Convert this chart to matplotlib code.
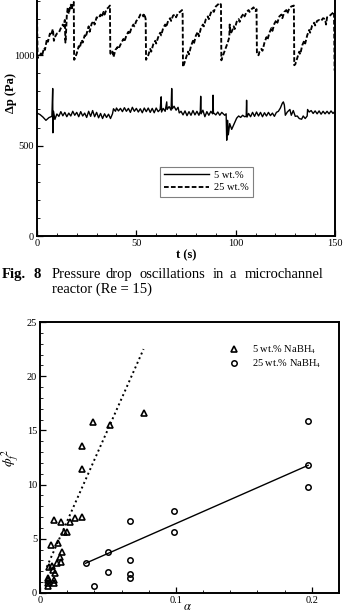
import numpy as np
import matplotlib
matplotlib.use("Agg")
from matplotlib import pyplot as plt
from matplotlib.ticker import MultipleLocator

plt.rcParams['font.family'] = ['Liberation Serif', 'DejaVu Serif']
plt.rcParams['mathtext.fontset'] = 'stix'

## Data
# Fig 8: pressure drop, 5 wt.% (thin solid)
t5 = [0, 1.5, 3, 4.5, 6, 7.5, 7.9, 8.0, 8.3, 9, 10, 11, 12, 13, 14, 15, 16, 17, 18, 19,
      20, 21, 22, 23, 24, 25, 26, 27, 28, 29, 30, 31, 32, 33, 34, 35, 36, 37, 38, 38.5,
      39.5, 40, 41, 42, 43, 44, 45, 46, 47, 48, 49, 50, 51, 52, 53, 54, 55, 56, 57, 58,
      59, 60, 61, 62, 62.5, 62.7, 63.5, 64.5, 65.3, 65.5, 66.5, 67.5, 67.8, 68.1, 69, 70, 71, 71.6, 72.5, 73.5,
      74.5, 75.5, 76.5, 77.5, 78.5, 79.5, 80.5, 81.5, 82.2, 82.4, 82.6, 83.5, 84.5, 85.5, 86.5, 87.5, 88.4, 88.6, 88.8, 90,
      91, 92, 93, 94.5, 95.2, 95.5, 95.9, 96.3, 97, 98, 99, 100, 100.5, 101.5, 102.5, 103.5, 104.5, 105.3, 105.5, 105.7,
      106.5, 107.5, 108.5, 109.5, 110.5, 111.5, 112.5, 113.5, 114.5, 115.5, 116.5, 117.5, 118.5, 119.5, 120.5, 121.5, 122.5, 123.5, 124, 124.5,
      125, 126, 127.3, 128, 129, 130, 131, 132, 133.2, 134, 135, 136, 136.2, 137, 138, 139, 140, 141, 142, 143,
      144, 145, 146, 147, 148, 149, 150]
p5 = [680, 672, 658, 640, 655, 662, 816, 571, 690, 645, 675, 662, 688, 665, 684, 660, 680, 664, 690, 668,
      684, 660, 688, 664, 680, 656, 690, 662, 694, 660, 684, 654, 678, 650, 676, 656, 674, 650, 676, 704,
      690, 708, 692, 706, 688, 710, 690, 706, 684, 712, 690, 706, 686, 704, 682, 708, 688, 708, 684, 706,
      682, 708, 688, 700, 770, 686, 706, 690, 742, 700, 716, 696, 816, 704, 718, 696, 712, 681, 690, 670,
      692, 666, 688, 668, 694, 670, 690, 668, 690, 773, 676, 696, 660, 688, 668, 690, 676, 779, 682, 670,
      686, 668, 684, 668, 676, 530, 640, 560, 622, 590, 615, 640, 652, 664, 656, 668, 660, 662, 751, 658,
      678, 660, 684, 662, 686, 664, 684, 660, 682, 664, 684, 666, 680, 662, 684, 690, 708, 735, 742, 725,
      668, 686, 700, 668, 694, 662, 664, 650, 646, 664, 650, 664, 700, 686, 694, 678, 692, 676, 692, 674,
      690, 676, 690, 676, 692, 678, 690]

# Fig 8: pressure drop, 25 wt.% (dashed sawtooth)
t25 = [0, 0.3, 1, 2, 2.5, 3.5, 4, 5, 5.5, 6.5, 7, 8, 8.5, 9, 10, 11, 12, 13, 13.5, 14, 14.3, 14.6, 15, 15.5, 16, 16.5, 17, 17.5, 18, 18.5, 18.7,
       19, 20, 21, 21.5, 22.5, 23, 24, 24.5, 25.5, 26, 26.5, 27.5, 28.5, 29, 30, 31, 32, 32.5, 33.5, 34, 35, 36, 36.7, 36.9,
       37.5, 38, 38.5, 39.5, 40.5, 41, 42.5, 43.5, 44, 45, 46, 46.5, 47.5, 48.5, 49, 50, 51, 52, 53, 53.5, 54, 54.7, 54.9,
       55.3, 56, 57, 57.5, 58.5, 59.5, 60, 61, 62, 62.5, 63.5, 64.5, 65, 66, 67, 67.5, 68.5, 69.5, 70, 71, 72, 73, 73.3, 73.5,
       74, 75, 76, 76.5, 77.5, 78.5, 79, 80, 81, 81.5, 82.5, 83.5, 84, 85, 86, 86.5, 87.5, 88.5, 89, 90, 91, 92, 92.6, 92.8,
       93, 94, 95, 96, 96.8, 97, 97.3, 98, 99, 99.5, 100.5, 101.5, 102, 103, 104, 104.5, 105.5, 106.5, 107, 108, 109, 110, 110.5, 110.7,
       111, 111.5, 112, 113, 113.5, 114.5, 115.5, 116, 117, 118, 118.5, 119.5, 120.5, 121, 122, 123, 123.5, 124.5, 125.5, 126, 127, 128, 129.3, 129.5,
       130, 131, 132, 132.5, 133.5, 134.5, 135, 136, 137, 137.5, 138.5, 139.5, 140, 141, 142, 143, 144, 145, 145.5, 146, 147, 148, 149.5, 149.8]
p25 = [1235, 985, 990, 1010, 995, 1040, 1030, 1090, 1075, 1120, 1110, 1145, 1080, 1100, 1120, 1125, 1150, 1170, 1160, 1195, 1070, 1120, 1220, 1265, 1230, 1260, 1280, 1250, 1290, 1295, 975,
       980, 1010, 1050, 1040, 1085, 1070, 1110, 1100, 1140, 1160, 1130, 1175, 1190, 1170, 1210, 1205, 1225, 1210, 1240, 1225, 1255, 1265, 1275, 1010,
       1005, 1020, 990, 1030, 1045, 1035, 1070, 1090, 1075, 1110, 1130, 1115, 1150, 1170, 1160, 1190, 1200, 1225, 1230, 1215, 1230, 1200, 975,
       985, 1000, 1035, 1020, 1060, 1080, 1065, 1100, 1125, 1110, 1150, 1170, 1155, 1190, 1205, 1190, 1220, 1225, 1210, 1235, 1240, 1250, 1230, 935,
       950, 985, 1020, 1005, 1050, 1080, 1065, 1110, 1130, 1105, 1150, 1170, 1160, 1200, 1215, 1200, 1235, 1250, 1240, 1270, 1280, 1290, 1280, 972,
       980, 1010, 1040, 1070, 1100, 1170, 1120, 1130, 1160, 1145, 1185, 1200, 1185, 1215, 1230, 1215, 1240, 1250, 1240, 1255, 1265, 1245, 1255, 1010,
       1010, 1000, 1020, 1035, 1025, 1070, 1100, 1085, 1125, 1150, 1135, 1175, 1195, 1180, 1215, 1225, 1205, 1240, 1250, 1230, 1260, 1270, 1275, 945,
       950, 985, 1020, 1005, 1055, 1080, 1065, 1110, 1140, 1125, 1165, 1180, 1165, 1190, 1195, 1190, 1205, 1200, 1170, 1210, 1215, 1225, 1240, 915]

# second plot: phi_f^2 vs alpha
a_5 = [0.0389, 0.0308, 0.0308, 0.0512, 0.0768, 0.0106, 0.0157, 0.0221, 0.0258, 0.0308,
       0.0179, 0.0197, 0.0081, 0.0133, 0.016, 0.0148, 0.0155, 0.0123, 0.0086, 0.0069,
       0.0098, 0.011, 0.0061, 0.0057, 0.006, 0.0103, 0.0106, 0.0057]
phi_5 = [15.75, 13.56, 11.47, 15.53, 16.63, 6.73, 6.52, 6.55, 6.92, 7.0,
         5.66, 5.66, 4.4, 4.6, 3.75, 3.3, 2.86, 2.77, 2.5, 2.4,
         2.1, 1.87, 1.35, 1.2, 0.9, 1.2, 0.9, 0.65]
a_25 = [0.0335, 0.04, 0.0497, 0.0497, 0.0664, 0.0664, 0.0664, 0.0664, 0.0989, 0.0989, 0.1973, 0.1973, 0.1973]
phi_25 = [2.74, 0.68, 3.75, 1.97, 6.67, 3.02, 1.72, 1.38, 7.56, 5.6, 15.84, 11.78, 9.81]

# fitted lines (end points)
fit5_a = [0.005, 0.0762]
fit5_phi = [2.4, 22.5]
fit25_a = [0.0335, 0.1973]
fit25_phi = [2.74, 11.78]

### Plotting
W, H = 347, 613
fig = plt.figure(figsize=(W/100, H/100), dpi=100)

def box(l, r, b, t):
    # pixel box -> figure fractions
    return [l/W, 1 - b/H, (r - l)/W, (b - t)/H]

tick_kw = dict(direction="in", labelsize=7.5, width=0.9)

# top chart
ax1 = fig.add_axes(box(37, 335, 236, -8))
ax1.plot(t5, p5, color="black", lw=1.0, label="5 wt.%")
ax1.plot(t25, p25, color="black", lw=1.35, linestyle=(0, (2.5, 1.2)), label="25 wt.%")
ax1.set_xlim(0, 150)
ax1.set_ylim(0, 1350)
ax1.xaxis.set_major_locator(MultipleLocator(50))
ax1.xaxis.set_minor_locator(MultipleLocator(10))
ax1.yaxis.set_major_locator(MultipleLocator(500))
ax1.yaxis.set_minor_locator(MultipleLocator(100))
ax1.tick_params(which="major", length=4.5, pad=2, **tick_kw)
ax1.tick_params(which="minor", length=2.2, direction="in", width=0.6)
for s in ("left", "bottom", "right"):
    ax1.spines[s].set_linewidth(1.4)
ax1.spines["top"].set_visible(False)
ax1.set_xlabel("t (s)", fontweight="bold", fontsize=9, labelpad=1)
ax1.set_ylabel("Δp (Pa)", fontweight="bold", fontsize=9)
ax1.yaxis.set_label_coords(-0.068, 0.586)
leg = ax1.legend(loc="lower left", bbox_to_anchor=(0.395, 0.14), fontsize=7.5,
                 handlelength=4.3, fancybox=False, edgecolor="gray", framealpha=1,
                 borderpad=0.4, labelspacing=0.3, handletextpad=0.5)
leg.get_frame().set_linewidth(0.8)

# caption
cap_y = 1 - 278/H
fig.text(2/W, cap_y, "Fig.", fontweight="bold", fontsize=10.5, va="baseline")
fig.text(33/W, cap_y, "8", fontweight="bold", fontsize=10.5, va="baseline")
words = [("Pressure", 52), ("drop", 106), ("oscillations", 139), ("in", 213), ("a", 230), ("microchannel", 245)]
for w, x in words:
    fig.text(x/W, cap_y, w, fontsize=10.5, va="baseline")
fig.text(52/W, 1 - 293/H, "reactor (Re = 15)", fontsize=10.5, va="baseline")

# bottom chart
ax2 = fig.add_axes(box(40, 339, 593, 322))
ax2.plot(fit5_a, fit5_phi, color="black", lw=1.4, linestyle=(0, (1, 1.6)))
ax2.plot(fit25_a, fit25_phi, color="black", lw=1.0)
ax2.plot(a_5, phi_5, linestyle="none", marker="^", ms=4.5, mfc="none", mec="black", mew=1.2,
         label="5 wt.% NaBH$_4$")
ax2.plot(a_25, phi_25, linestyle="none", marker="o", ms=3.9, mfc="none", mec="black", mew=1.1,
         label="25 wt.% NaBH$_4$")
ax2.set_xlim(0, 0.22)
ax2.set_ylim(0, 25)
ax2.xaxis.set_major_locator(MultipleLocator(0.1))
ax2.xaxis.set_minor_locator(MultipleLocator(0.02))
ax2.yaxis.set_major_locator(MultipleLocator(5))
ax2.yaxis.set_minor_locator(MultipleLocator(1))
ax2.xaxis.set_major_formatter(plt.FuncFormatter(lambda v, p: "0" if abs(v) < 1e-9 else "%g" % v))
ax2.tick_params(which="major", length=4.5, pad=2, **tick_kw)
ax2.tick_params(which="minor", length=2.2, direction="in", width=0.6)
for s in ax2.spines.values():
    s.set_linewidth(1.4)
ax2.set_ylabel(r"$\phi_f^{\,2}$", fontsize=10)
ax2.yaxis.set_label_coords(-0.065, 0.498)
fig.text(187/W, 0.0, r"$\alpha$", fontsize=9, ha="center", va="bottom")
ax2.legend(loc="upper left", bbox_to_anchor=(0.615, 0.94), frameon=False, fontsize=7.5,
           handlelength=1.0, handletextpad=1.2, borderpad=0, labelspacing=0.15)

fig.savefig("out.png", dpi=100)
